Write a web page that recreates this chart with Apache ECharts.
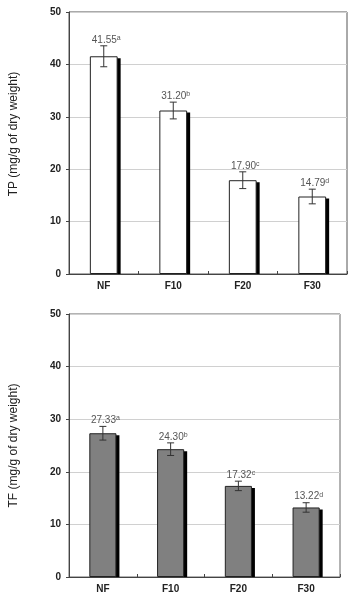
<!DOCTYPE html>
<html>
<head>
<meta charset="utf-8">
<script src="https://cdn.jsdelivr.net/npm/echarts@6/dist/echarts.min.js"></script>
<style>
html,body{margin:0;padding:0;background:#fff;}
#c{width:348px;height:594px;}
</style>
</head>
<body>
<div id="c"></div>
<script>
const categories = ['NF', 'F10', 'F20', 'F30'];
const tpValues = [41.55, 31.20, 17.90, 14.79];
const tpErrors = [2.0, 1.6, 1.6, 1.4];
const tpLetters = ['a', 'b', 'c', 'd'];
const tfValues = [27.33, 24.30, 17.32, 13.22];
const tfErrors = [1.3, 1.2, 0.9, 0.9];
const tfLetters = ['a', 'b', 'c', 'd'];
const yTicks = [0, 10, 20, 30, 40, 50];
const yNames = ['TP (mg/g of dry weight)', 'TF (mg/g of dry weight)'];

const FONT = '"Liberation Sans", Arial, sans-serif';
const BAR_RATIO = 0.4;

function shadowSeries(gi, values) {
  return {
    type: 'custom', xAxisIndex: gi, yAxisIndex: gi, z: 1,
    data: values.map((v, i) => [i, v]),
    renderItem: function (params, api) {
      const i = api.value(0), v = api.value(1);
      const top = api.coord([i, v]);
      const base = api.coord([i, 0]);
      const w = api.size([1, 0])[0] * BAR_RATIO;
      return {
        type: 'rect',
        shape: { x: top[0] - w / 2 + 3, y: top[1] + 2, width: w, height: base[1] - top[1] - 2 },
        style: { fill: '#000' }
      };
    }
  };
}

function barSeries(gi, values, fill) {
  return {
    type: 'bar', xAxisIndex: gi, yAxisIndex: gi, z: 3,
    data: values, barWidth: (BAR_RATIO * 100) + '%',
    itemStyle: { color: fill, borderColor: '#222', borderWidth: 1 },
    animation: false
  };
}

function errorSeries(gi, values, errors, letters) {
  return {
    type: 'custom', xAxisIndex: gi, yAxisIndex: gi, z: 4,
    data: values.map((v, i) => [i, v, errors[i]]),
    renderItem: function (params, api) {
      const i = api.value(0), v = api.value(1), e = api.value(2);
      const hi = api.coord([i, v + e]);
      const lo = api.coord([i, v - e]);
      const cx = hi[0];
      const cap = 3.5;
      const ls = { stroke: '#333', lineWidth: 1 };
      return {
        type: 'group',
        children: [
          { type: 'line', shape: { x1: cx, y1: hi[1], x2: cx, y2: lo[1] }, style: ls },
          { type: 'line', shape: { x1: cx - cap, y1: hi[1], x2: cx + cap, y2: hi[1] }, style: ls },
          { type: 'line', shape: { x1: cx - cap, y1: lo[1], x2: cx + cap, y2: lo[1] }, style: ls },
          {
            type: 'text',
            x: cx + 2.5, y: hi[1] - 6,
            style: {
              text: '{n|' + v.toFixed(2) + '}{s|' + letters[params.dataIndex] + '}',
              align: 'center', verticalAlign: 'middle',
              rich: {
                n: { fontSize: 10, fontFamily: FONT, fill: '#555', color: '#555' },
                s: { fontSize: 7, fontFamily: FONT, fill: '#555', color: '#555', verticalAlign: 'top', padding: [0, 0, 4, 0] }
              }
            }
          }
        ]
      };
    }
  };
}

function xAxis(gi) {
  return {
    type: 'category', gridIndex: gi, data: categories,
    axisLine: { lineStyle: { color: '#444', width: 1 } },
    axisTick: { show: true, inside: true, length: 3, interval: 0, lineStyle: { color: '#444' } },
    axisLabel: { fontFamily: FONT, fontSize: 10, fontWeight: 'bold', color: '#222', margin: 7 },
    splitLine: { show: false }
  };
}

function yAxis(gi, namePad) {
  return {
    type: 'value', gridIndex: gi, min: yTicks[0], max: yTicks[yTicks.length - 1], interval: yTicks[1] - yTicks[0],
    name: yNames[gi], nameLocation: 'middle', nameGap: 49, nameRotate: 90,
    nameTextStyle: { fontFamily: FONT, fontSize: 12, color: '#222', padding: namePad },
    axisLine: { show: true, lineStyle: { color: '#444', width: 1 } },
    axisTick: { show: true, length: 3, lineStyle: { color: '#444' } },
    axisLabel: { fontFamily: FONT, fontSize: 10, fontWeight: 'bold', color: '#222', margin: 8 },
    splitLine: { show: true, lineStyle: { color: '#d0d0d0', width: 1 } }
  };
}

const chart = echarts.init(document.getElementById('c'), null, { renderer: 'canvas' });
chart.setOption({
  backgroundColor: '#fff',
  animation: false,
  grid: [
    { left: 67, top: 12, right: 1, bottom: 320, show: true, borderColor: '#555', borderWidth: 1, backgroundColor: '#fff' },
    { left: 64, top: 314, right: 8, bottom: 17, show: true, borderColor: '#666', borderWidth: 1, backgroundColor: '#fff' }
  ],
  xAxis: [xAxis(0), xAxis(1)],
  yAxis: [yAxis(0, [0, 0, 0, 18]), yAxis(1, [0, 0, 0, 0])],
  series: [
    shadowSeries(0, tpValues),
    barSeries(0, tpValues, '#ffffff'),
    errorSeries(0, tpValues, tpErrors, tpLetters),
    shadowSeries(1, tfValues),
    barSeries(1, tfValues, '#808080'),
    errorSeries(1, tfValues, tfErrors, tfLetters)
  ]
});
</script>
</body>
</html>
